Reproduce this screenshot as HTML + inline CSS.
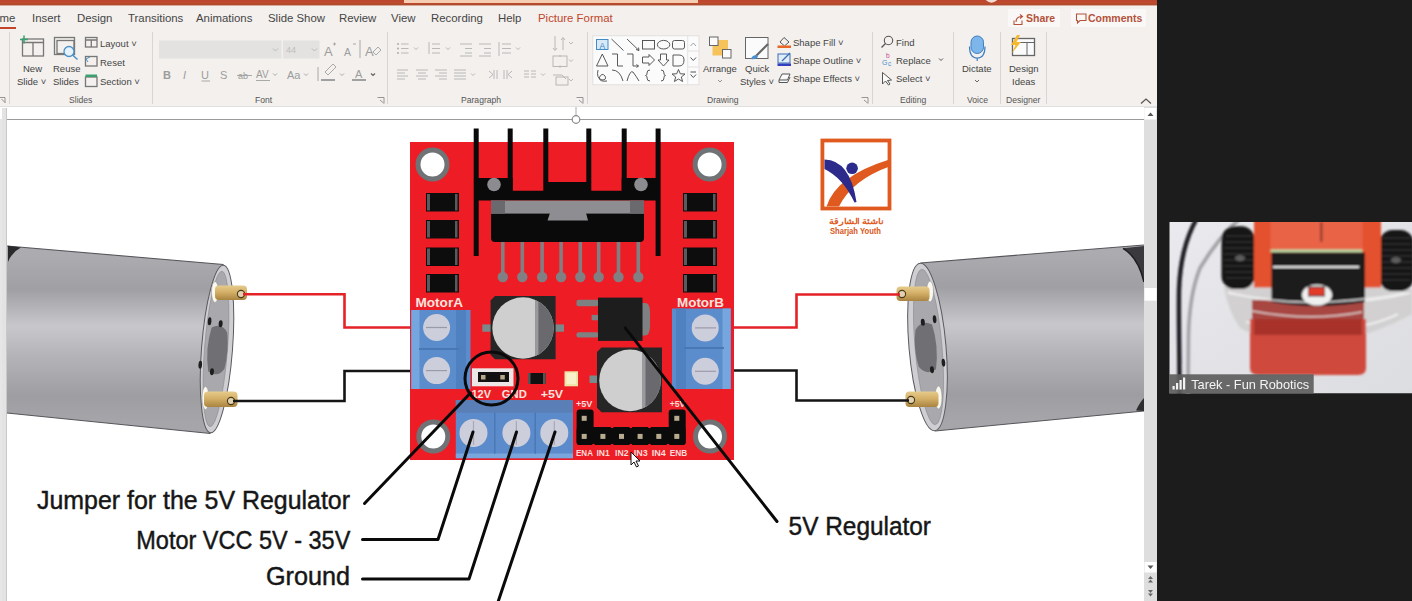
<!DOCTYPE html>
<html><head><meta charset="utf-8">
<style>
*{margin:0;padding:0;box-sizing:border-box}
html,body{width:1412px;height:601px;overflow:hidden;background:#1c1c1c;font-family:"Liberation Sans",sans-serif}
#app{position:absolute;left:0;top:0;width:1157px;height:601px;background:#f3f0ed;overflow:hidden}
#title{position:absolute;left:0;top:0;width:1157px;height:5px;background:linear-gradient(#bb4632,#c04a2a 60%,#a84a30);border-bottom:1px solid #d8a898;box-sizing:content-box}
#search{position:absolute;left:404px;top:0;width:294px;height:2.5px;background:#f4cdb2}
.t{position:absolute;white-space:nowrap;line-height:1}
.tab{font-size:11.4px;color:#454545;top:12.5px}
.rl{font-size:9.5px;color:#444}
.gl{font-size:8.6px;color:#555;top:96px}
.sep{position:absolute;top:32px;width:1px;height:72px;background:#d8d6d4}
svg{position:absolute;left:0;top:0;overflow:visible}
#right{position:absolute;left:1157px;top:0;width:255px;height:601px;background:#1c1c1c}
</style></head><body>
<div id="app">
  <div id="title"></div><div id="search"></div>
  <!-- tabs -->
  <div class="t tab" style="left:-15px">Home</div>
  <div style="position:absolute;left:0;top:27px;width:16px;height:2px;background:#c2452b"></div>
  <div class="t tab" style="left:32px">Insert</div>
  <div class="t tab" style="left:77px">Design</div>
  <div class="t tab" style="left:128px">Transitions</div>
  <div class="t tab" style="left:196px">Animations</div>
  <div class="t tab" style="left:268px">Slide Show</div>
  <div class="t tab" style="left:339px">Review</div>
  <div class="t tab" style="left:391px">View</div>
  <div class="t tab" style="left:431px">Recording</div>
  <div class="t tab" style="left:498px">Help</div>
  <div class="t tab" style="left:538px;color:#c0452b">Picture Format</div>
  <!-- share / comments -->
  <div style="position:absolute;left:1008px;top:9px;width:52px;height:18px;background:#faf8f7"></div>
  <div style="position:absolute;left:1071px;top:9px;width:75px;height:18px;background:#faf8f7"></div>
  <div class="t" style="left:1026px;top:13px;font-size:10.5px;font-weight:bold;color:#b4523a">Share</div>
  <div class="t" style="left:1088px;top:13px;font-size:10.5px;font-weight:bold;color:#b4523a">Comments</div>

  <!-- separators -->
  <div class="sep" style="left:9px"></div>
  <div class="sep" style="left:152px"></div>
  <div class="sep" style="left:387px"></div>
  <div class="sep" style="left:587px"></div>
  <div class="sep" style="left:872px"></div>
  <div class="sep" style="left:953px"></div>
  <div class="sep" style="left:1000px"></div>
  <div class="sep" style="left:1046px"></div>

  <!-- group labels -->
  <div class="t gl" style="left:69px">Slides</div>
  <div class="t gl" style="left:255px">Font</div>
  <div class="t gl" style="left:461px">Paragraph</div>
  <div class="t gl" style="left:707px">Drawing</div>
  <div class="t gl" style="left:900px">Editing</div>
  <div class="t gl" style="left:967px">Voice</div>
  <div class="t gl" style="left:1006px">Designer</div>

  <!-- ribbon labels -->
  <div class="t rl" style="left:23px;top:64px">New</div>
  <div class="t rl" style="left:17px;top:77px">Slide ˅</div>
  <div class="t rl" style="left:53px;top:64px">Reuse</div>
  <div class="t rl" style="left:53px;top:77px">Slides</div>
  <div class="t rl" style="left:100px;top:39px">Layout ˅</div>
  <div class="t rl" style="left:100px;top:58px">Reset</div>
  <div class="t rl" style="left:100px;top:77px">Section ˅</div>
  <div class="t rl" style="left:703px;top:64px">Arrange</div>
  <div class="t rl" style="left:745px;top:64px">Quick</div>
  <div class="t rl" style="left:740px;top:77px">Styles ˅</div>
  <div class="t rl" style="left:793px;top:38px">Shape Fill ˅</div>
  <div class="t rl" style="left:793px;top:56px">Shape Outline ˅</div>
  <div class="t rl" style="left:793px;top:74px">Shape Effects ˅</div>
  <div class="t rl" style="left:896px;top:38px">Find</div>
  <div class="t rl" style="left:896px;top:56px">Replace</div>
  <div class="t rl" style="left:896px;top:74px">Select ˅</div>
  <div class="t rl" style="left:962px;top:64px">Dictate</div>
  <div class="t rl" style="left:1009px;top:64px">Design</div>
  <div class="t rl" style="left:1012px;top:77px">Ideas</div>

  <!-- ribbon bottom border -->
  <div style="position:absolute;left:0;top:106px;width:1157px;height:1px;background:#e2e0de"></div>

  <svg id="ribbonicons" width="1157" height="107" viewBox="0 0 1157 107">
<!-- title avatar hint -->
<circle cx="991.5" cy="-4.5" r="7.2" fill="#f2dcd4"/>
<!-- share/comment icons -->
<g fill="none" stroke="#b4523a" stroke-width="1.1">
  <path d="M1014 20.5 V24.5 H1022 V20.5"/><path d="M1016 22 Q1016 16.5 1022 16.5 M1020 14.5 L1022.5 16.5 L1020 18.5"/>
  <path d="M1076.5 14 H1086 V20.5 H1080 L1077.5 23 V20.5 H1076.5 Z"/>
</g>
<!-- dialog launchers -->
<g fill="none" stroke="#8a8a8a" stroke-width="0.9">
  <path d="M0 97.5 H5 V103 M1.5 99 L5 102.5"/>
  <path d="M377.5 97.5 H384 V103.5 M380 100 L383.5 103"/>
  <path d="M576.5 97.5 H583 V103.5 M579 100 L582.5 103"/>
  <path d="M861.5 97.5 H868 V103.5 M864 100 L867.5 103"/>
  <path d="M1141 103.5 L1146 99 L1151 103.5" stroke="#555" stroke-width="1.2"/>
</g>
<!-- Slides group icons -->
<g fill="none" stroke="#777" stroke-width="1.3">
  <rect x="22.5" y="39" width="21" height="17"/>
  <path d="M22.5 42.5 H43.5 M33 42.5 V56"/>
  <rect x="54.5" y="37.5" width="20" height="17"/>
  <rect x="57" y="40.5" width="17" height="13"/>
  <rect x="85.5" y="37.5" width="11.5" height="9.5"/>
  <path d="M86 40 H97 M91.3 40 V47"/>
  <rect x="85.5" y="56.5" width="11.5" height="9.5"/>
  <rect x="85.5" y="77" width="11.5" height="9.5"/>
</g>
<path d="M20 39.5 H28 M24 35.5 V43.5" stroke="#3aa070" stroke-width="1.5"/>
<circle cx="69" cy="51.5" r="5" fill="#e8f2fa" stroke="#4a90c8" stroke-width="1.3"/>
<path d="M72.5 55 L77.5 59.5" stroke="#4a90c8" stroke-width="1.5"/>
<path d="M86 59 L90 57 M86 59 L88 62" stroke="#4a90c8" stroke-width="1"/>
<rect x="85.5" y="74.5" width="11.5" height="2.5" fill="#3aa070"/>

<!-- Font group -->
<rect x="159" y="40.5" width="122.5" height="18" fill="#e4e2e0"/>
<rect x="283" y="40.5" width="36.5" height="18" fill="#e4e2e0"/>
<g fill="none" stroke="#b8b6b4" stroke-width="0.9">
  <path d="M273 48.5 L275.5 51 L278 48.5"/><path d="M312 48.5 L314.5 51 L317 48.5"/>
</g>
<g fill="#9c9c9c" font-family="Liberation Sans">
  <text x="324" y="56" font-size="13">A</text>
  <text x="344" y="55.5" font-size="10.5">A</text>
  <text x="365" y="56" font-size="13">A</text>
  <text x="286" y="53" font-size="9" fill="#c0bebc">44</text>
  <text x="163" y="79" font-size="11" font-weight="bold">B</text>
  <text x="183" y="79" font-size="11" font-style="italic">I</text>
  <text x="201" y="79" font-size="11">U</text>
  <text x="220" y="79" font-size="11">S</text>
  <text x="238" y="79" font-size="9">ab</text>
  <text x="256" y="78" font-size="10">AV</text>
  <text x="287" y="79" font-size="11">Aa</text>
  <text x="355" y="78" font-size="11">A</text>
</g>
<g fill="none" stroke="#a0a0a0" stroke-width="0.9">
  <path d="M333 44 L336 44 M334.5 42.5 V45.5"/>
  <path d="M353 44 L356 44"/>
  <path d="M201.5 81 H210"/>
  <path d="M237 75.5 H252"/>
  <path d="M256 80.5 H270"/>
  <path d="M273 73.5 L275 75.5 L277 73.5"/><path d="M304 73.5 L306 75.5 L308 73.5"/>
  <path d="M340 73.5 L342 75.5 L344 73.5"/><path d="M371 73.5 L373 75.5 L375 73.5" stroke="#666" stroke-width="1.2"/>
  <path d="M318 67 V81"/><path d="M360 40 V58"/>
  <path d="M325 72 L333 64 L336 67 L328 75 Z"/>
</g>
<rect x="321" y="79" width="14" height="2" fill="#a0a0a0"/>
<rect x="352" y="79" width="14" height="2" fill="#a0a0a0"/>
<path d="M373 52 L378 47 L381 50 L376 55 Z" fill="none" stroke="#a0a0a0" stroke-width="0.9"/>

<!-- Paragraph group -->
<g fill="none" stroke="#b2b2b2" stroke-width="0.9">
  <!-- bullets -->
  <path d="M401 44 H408.5 M401 48.5 H408.5 M401 53 H408.5"/>
  <path d="M414 47.5 L416 49.5 L418 47.5"/>
  <path d="M432 44 H440 M432 48.5 H440 M432 53 H440 M429 42 V54"/>
  <path d="M446 47.5 L448 49.5 L450 47.5"/>
  <path d="M460 44 H472 M465 48.5 H472 M465 53 H472 M460 56 H472"/>
  <path d="M479 44 H491 M484 48.5 H491 M484 53 H491 M479 56 H491"/>
  <path d="M502 44 H511 M502 48.5 H511 M502 53 H511 M499 42 V56"/>
  <path d="M516 47.5 L518 49.5 L520 47.5"/>
  <!-- align -->
  <path d="M397 70 H408 M397 73 H405 M397 76 H408 M397 79 H405"/>
  <path d="M416 70 H428 M418 73 H426 M416 76 H428 M418 79 H426"/>
  <path d="M435 70 H447 M439 73 H447 M435 76 H447 M439 79 H447"/>
  <path d="M454 70 H466 M454 73 H466 M454 76 H466 M454 79 H466"/>
  <path d="M471 73.5 L473 75.5 L475 73.5"/>
  <path d="M489 71 L493 74.5 L489 78 M494 70 V79 M497 70 V79"/>
  <path d="M512 71 L508 74.5 L512 78 M504 70 V79 M507 70 V79"/>
  <path d="M524 71 H529 M524 74 H529 M524 77 H529 M531 71 H536 M531 74 H536 M531 77 H536"/>
  <path d="M541 73.5 L543 75.5 L545 73.5"/>
  <!-- right column -->
  <path d="M555 36 V50 M553 48 L555 50.5 L557 48 M563 38 V50 M561 40 L563 37.5 L565 40"/>
  <path d="M569 42 L571 44 L573 42"/>
  <rect x="553" y="56" width="14" height="10.5"/>
  <path d="M560 55 V57 M560 65.5 V68"/>
  <path d="M569 59.5 L571 61.5 L573 59.5"/>
  <rect x="556" y="77" width="12" height="8"/>
  <path d="M553 75 H562 L566 79"/>
  <path d="M569 79 L571 81 L573 79"/>
</g>
<circle cx="398" cy="44" r="0.9" fill="#a6a6a6"/><circle cx="398" cy="48.5" r="0.9" fill="#a6a6a6"/><circle cx="398" cy="53" r="0.9" fill="#a6a6a6"/>

<!-- Drawing: shapes gallery -->
<rect x="592.8" y="35.8" width="106.2" height="49" fill="#fbfbfb" stroke="#dedcda" stroke-width="0.8"/>
<path d="M687.7 36 V85 M687.7 51 H699 M687.7 67 H699" stroke="#dedcda" stroke-width="0.8" fill="none"/>
<g fill="none" stroke="#9a9a9a" stroke-width="0.9">
  <path d="M690.5 46 L693.3 43 L696 46"/>
</g>
<g fill="none" stroke="#555" stroke-width="1">
  <path d="M690.5 57.5 L693.3 60.5 L696 57.5"/>
  <path d="M690.5 74.5 L693.3 77.5 L696 74.5 M690.5 72 H696"/>
</g>
<g fill="none" stroke="#505050" stroke-width="0.95">
  <rect x="596.5" y="39.5" width="11.5" height="10" stroke="#3c86c4" fill="#d8eaf8"/>
  <path d="M611.5 39 L623.5 50.5"/>
  <path d="M627 39 L639 50.5 M639 50.5 L636 49.5 M639 50.5 L638.5 47.5"/>
  <rect x="642.5" y="40.5" width="12" height="8.5"/>
  <ellipse cx="663.6" cy="44.7" rx="6.2" ry="4.3"/>
  <rect x="672.5" y="40.5" width="12" height="8.5" rx="2"/>
  <path d="M596.5 66 L602.3 54 L608 66 Z"/>
  <path d="M612 54 H617.5 V66 H623"/>
  <path d="M627 54 H633 V66 H638.5 M638.5 66 L636.5 64.5 M638.5 66 L636.5 67.5"/>
  <path d="M642.5 57 H649 V54.5 L654.5 60 L649 65.5 V63 H642.5 Z"/>
  <path d="M660.5 54 H666.5 V60 H669 L663.5 66 L658 60 H660.5 Z"/>
  <path d="M673 55 H679 Q684 55 684 60 Q684 66 679 66 H673 Z"/>
  <path d="M598 70 Q596 78 602 80 Q607 80 605 76 Q602 72 599 78 Q600 82 607 81"/>
  <path d="M612 70 Q620 70 623 81"/>
  <path d="M627 81 Q630 70 633 72 Q636 76 639 81"/>
  <path d="M650 70 Q647 70 647 73 V74.5 L645.5 75.5 L647 76.5 V78 Q647 81 650 81"/>
  <path d="M661 70 Q664 70 664 73 V74.5 L665.5 75.5 L664 76.5 V78 Q664 81 661 81"/>
  <path d="M678.5 69.5 L680.3 73.8 L685 74 L681.3 77 L682.6 81.5 L678.5 79 L674.4 81.5 L675.7 77 L672 74 L676.7 73.8 Z"/>
</g>
<text x="599.5" y="48.5" font-family="Liberation Sans" font-size="8.5" fill="#3c86c4">A</text>
<!-- Arrange -->
<rect x="712.5" y="40" width="15.5" height="15.5" fill="#f5c35a"/>
<rect x="709.5" y="37" width="8.5" height="8.5" fill="#fbfbfb" stroke="#666" stroke-width="1"/>
<rect x="722.5" y="49.5" width="8.5" height="8.5" fill="#fbfbfb" stroke="#666" stroke-width="1"/>
<path d="M718 80 L720 82 L722 80" fill="none" stroke="#888" stroke-width="0.9"/>
<!-- Quick styles -->
<rect x="745.5" y="37.5" width="22.5" height="21" fill="#fbfbfb" stroke="#666" stroke-width="1"/>
<path d="M768 44 L756 56" stroke="#666" stroke-width="2.2"/>
<path d="M757 55 Q752 55 751 59 Q755 60 758 57 Z" fill="#4a90d0"/>
<!-- Shape fill/outline/effects icons -->
<path d="M780 42 L784 37.5 L789 42 L784.5 46 Z" fill="none" stroke="#555" stroke-width="1"/>
<rect x="777.5" y="45.5" width="13.5" height="2.5" fill="#e8682a"/>
<rect x="778" y="54" width="12" height="9" fill="#e0ecf8" stroke="#3c6cb4" stroke-width="1"/>
<path d="M782 61 L790 53" stroke="#3c6cb4" stroke-width="1.2"/>
<rect x="777.5" y="63.5" width="13.5" height="2.5" fill="#3040c0"/>
<path d="M779 80 L782 74 H790 L787.5 80 Z M779 80 V82.5 H787.5 L790 77" fill="#fbfbfb" stroke="#555" stroke-width="1"/>
<!-- Editing icons -->
<circle cx="888.5" cy="40.5" r="4.2" fill="none" stroke="#555" stroke-width="1.1"/>
<path d="M885.5 43.5 L881.5 47.5" stroke="#555" stroke-width="1.2"/>
<text x="886" y="58" font-family="Liberation Sans" font-size="6.5" fill="#c44a9a">b</text>
<text x="882" y="65" font-family="Liberation Sans" font-size="7" fill="#4a90d0">G</text>
<text x="888" y="66" font-family="Liberation Sans" font-size="6.5" fill="#4a90d0">c</text>
<path d="M882.5 72.5 L882.5 84 L885.5 81 L888.5 85 L890 84 L887.5 80.5 L891.5 80 Z" fill="#fbfbfb" stroke="#444" stroke-width="0.9"/>
<path d="M939 58.5 L941 60.5 L943 58.5" fill="none" stroke="#555" stroke-width="1"/>
<!-- Dictate mic -->
<rect x="971" y="36" width="12.5" height="17.5" rx="6.25" fill="#7db6ea" stroke="#3e7fc2" stroke-width="1"/>
<path d="M969.5 46.5 Q969.5 58 977.2 58 Q985 58 985 46.5 M977.2 58 V61" fill="none" stroke="#3e7fc2" stroke-width="1.2"/>
<path d="M975 80 L977 82 L979 80" fill="none" stroke="#666" stroke-width="1"/>
<!-- Designer -->
<rect x="1012.5" y="38.5" width="22" height="17" fill="#fbfbfb" stroke="#666" stroke-width="1.3"/>
<path d="M1013 42.5 H1034 M1027 42.5 V55" stroke="#666" stroke-width="1" fill="none"/>
<path d="M1017 35 L1011 45 H1015.5 L1012 53 L1021 42 H1016.5 L1020 35 Z" fill="#f5b830"/>
</svg>


  <svg id="slide" width="1157" height="601" viewBox="0 0 1157 601" style="top:0">
<defs>
  <linearGradient id="mbodyL" gradientUnits="userSpaceOnUse" x1="112" y1="256" x2="112" y2="423">
    <stop offset="0" stop-color="#acacb0"/>
    <stop offset="0.2" stop-color="#a0a0a4"/>
    <stop offset="0.42" stop-color="#c8c8cc"/>
    <stop offset="0.6" stop-color="#b4b4b8"/>
    <stop offset="0.84" stop-color="#9e9ea2"/>
    <stop offset="1" stop-color="#a6a6aa"/>
  </linearGradient>
  <linearGradient id="mbodyR" gradientUnits="userSpaceOnUse" x1="1035" y1="254" x2="1035" y2="421">
    <stop offset="0" stop-color="#acacb0"/>
    <stop offset="0.2" stop-color="#a0a0a4"/>
    <stop offset="0.42" stop-color="#c8c8cc"/>
    <stop offset="0.6" stop-color="#b4b4b8"/>
    <stop offset="0.84" stop-color="#9e9ea2"/>
    <stop offset="1" stop-color="#a6a6aa"/>
  </linearGradient>
  <linearGradient id="brass" x1="0" y1="0" x2="0" y2="1">
    <stop offset="0" stop-color="#e6cc8c"/>
    <stop offset="0.45" stop-color="#d4b068"/>
    <stop offset="1" stop-color="#a88440"/>
  </linearGradient>
</defs>
<!-- slide pane -->
<rect x="0" y="107" width="1144" height="494" fill="#ffffff"/>
<rect x="0" y="119" width="2" height="482" fill="#e6e6e6"/>
<rect x="2" y="108" width="5" height="493" fill="#e3e3e3"/>
<rect x="6" y="108" width="1" height="493" fill="#c8c8c8"/>
<line x1="7" y1="119.5" x2="1144" y2="119.5" stroke="#9a9a9a" stroke-width="1.2"/>
<line x1="576" y1="107" x2="576" y2="116" stroke="#aaa" stroke-width="1"/>
<circle cx="576" cy="119.5" r="3.8" fill="#fff" stroke="#888" stroke-width="1.2"/>

<!-- LEFT MOTOR -->
<g id="lmotor">
  <path d="M7 246 L223.5 264.5 L210.5 433.5 L7 413 Z" fill="url(#mbodyL)"/>
  <path d="M7 246 L223.5 264.5" stroke="#55555a" stroke-width="1.1" fill="none"/>
  <path d="M7 413 L210.5 433.5" stroke="#55555a" stroke-width="1.1" fill="none"/>
  <path d="M8 245.7 L21 247.5 Q12 252 8 262 Z" fill="#2a2a2c"/>
  <g transform="rotate(4.4 217 349)">
  <ellipse cx="217" cy="349" rx="15.5" ry="84" fill="#cfcfd3" stroke="#5a5a5e" stroke-width="1"/>
  <ellipse cx="216" cy="349" rx="11.5" ry="78" fill="#a9a9ad" stroke="#8a8a8e" stroke-width="0.6"/>
  <path d="M210 328 Q220 322 226 332 Q229 350 226 368 Q220 378 210 372 Q205 350 210 328 Z" fill="#707074"/>
  <ellipse cx="207.5" cy="322" rx="1.8" ry="4" fill="#1e1e1e"/>
  <ellipse cx="218.7" cy="323.5" rx="2" ry="3.5" fill="#1e1e1e"/>
  <ellipse cx="201.5" cy="366" rx="1.8" ry="4" fill="#1e1e1e"/>
  <ellipse cx="213.7" cy="372" rx="2" ry="3.5" fill="#1e1e1e"/>
  </g>
  <ellipse cx="215" cy="292" rx="3.5" ry="10.5" fill="#fbf8f0" stroke="#888" stroke-width="0.5"/>
  <ellipse cx="205.5" cy="398" rx="3.5" ry="11.5" fill="#fbf8f0" stroke="#888" stroke-width="0.5"/>
  <rect x="215" y="285.5" width="32" height="14.5" rx="4" fill="url(#brass)"/>
  <rect x="204" y="391.5" width="33.5" height="15.5" rx="4" fill="url(#brass)"/>
  <circle cx="241" cy="294" r="3.6" fill="#e0d2b0" stroke="#4a3818" stroke-width="1.1"/>
  <circle cx="231" cy="401" r="3.6" fill="#e0d2b0" stroke="#4a3818" stroke-width="1.1"/>
</g>
<!-- RIGHT MOTOR -->
<g id="rmotor">
  <path d="M1144 245 L920.5 263 L935 431 L1144 411 Z" fill="url(#mbodyR)"/>
  <path d="M1144 245 L920.5 263" stroke="#55555a" stroke-width="1.1" fill="none"/>
  <path d="M1144 411 L935 431" stroke="#55555a" stroke-width="1.1" fill="none"/>
  <path d="M1123 248.3 L1144 246 L1144 282 Q1138 257 1123 248.3 Z" fill="#3a3a3e"/>
  <path d="M1123 248.3 Q1138 257 1144 282" stroke="#1e1e20" stroke-width="1.5" fill="none"/>
  <path d="M1136 410.5 Q1140 402 1144 398 L1144 411 Z" fill="#2e2e30"/>
  <g transform="rotate(-5 927.5 347)">
  <ellipse cx="927.5" cy="347" rx="18.5" ry="84" fill="#cfcfd3" stroke="#5a5a5e" stroke-width="1"/>
  <ellipse cx="928.5" cy="347" rx="13.5" ry="78" fill="#a9a9ad" stroke="#8a8a8e" stroke-width="0.6"/>
  <path d="M934 325 Q924 319 917 329 Q913 347 917 366 Q924 376 934 370 Q939 347 934 325 Z" fill="#707074"/>
  <ellipse cx="937" cy="320" rx="1.8" ry="4" fill="#1e1e1e"/>
  <ellipse cx="925" cy="322" rx="2" ry="3.5" fill="#1e1e1e"/>
  <ellipse cx="942" cy="364" rx="1.8" ry="4" fill="#1e1e1e"/>
  <ellipse cx="930" cy="370" rx="2" ry="3.5" fill="#1e1e1e"/>
  </g>
  <ellipse cx="930" cy="291.5" rx="3.5" ry="10.5" fill="#fbf8f0" stroke="#888" stroke-width="0.5"/>
  <ellipse cx="938.5" cy="397.5" rx="3.5" ry="11.5" fill="#fbf8f0" stroke="#888" stroke-width="0.5"/>
  <rect x="896.5" y="286.5" width="33" height="14.5" rx="4" fill="url(#brass)"/>
  <rect x="905.5" y="391.5" width="33" height="15.5" rx="4" fill="url(#brass)"/>
  <circle cx="902" cy="294" r="3.6" fill="#e0d2b0" stroke="#4a3818" stroke-width="1.1"/>
  <circle cx="911" cy="400" r="3.6" fill="#e0d2b0" stroke="#4a3818" stroke-width="1.1"/>
</g>
<!-- WIRES -->
<g fill="none" stroke-width="2.6" stroke-linejoin="miter">
  <path d="M243 294.2 H344.5 V327.5 H412" stroke="#e42228"/>
  <path d="M233 401 H344.5 V371 H412" stroke="#151515"/>
  <path d="M731 327.5 H796.5 V294.5 H900" stroke="#e42228"/>
  <path d="M731 370.5 H796.5 V400.5 H909" stroke="#151515"/>
</g>

<!-- BOARD -->
<g id="board">
  <rect x="410" y="142" width="324" height="318" fill="#ee1c25"/>
  <!-- holes -->
  <g fill="#ffffff" stroke="#6f7375" stroke-width="5">
    <circle cx="432.5" cy="164.6" r="14.5"/>
    <circle cx="709.6" cy="164.6" r="14.5"/>
    <circle cx="433.3" cy="436.6" r="14.5"/>
    <circle cx="710" cy="436.6" r="14.5"/>
  </g>
  <!-- SMD left/right -->
  <g fill="#0d0d0d">
    <rect x="426" y="193" width="33" height="18.5"/>
    <rect x="426" y="220" width="33" height="18.5"/>
    <rect x="426" y="247.5" width="33" height="18.5"/>
    <rect x="426" y="274" width="33" height="18.5"/>
    <rect x="683" y="193" width="34" height="18.5"/>
    <rect x="683" y="220" width="34" height="18.5"/>
    <rect x="683" y="247.5" width="34" height="18.5"/>
    <rect x="683" y="274" width="34" height="18.5"/>
  </g>
  <g fill="#5a5a5e">
    <rect x="427" y="194" width="3" height="16.5"/><rect x="455" y="194" width="2.5" height="16.5"/>
    <rect x="427" y="221" width="3" height="16.5"/><rect x="455" y="221" width="2.5" height="16.5"/>
    <rect x="427" y="248.5" width="3" height="16.5"/><rect x="455" y="248.5" width="2.5" height="16.5"/>
    <rect x="427" y="275" width="3" height="16.5"/><rect x="455" y="275" width="2.5" height="16.5"/>
    <rect x="684" y="194" width="3" height="16.5"/><rect x="713" y="194" width="2.5" height="16.5"/>
    <rect x="684" y="221" width="3" height="16.5"/><rect x="713" y="221" width="2.5" height="16.5"/>
    <rect x="684" y="248.5" width="3" height="16.5"/><rect x="713" y="248.5" width="2.5" height="16.5"/>
    <rect x="684" y="275" width="3" height="16.5"/><rect x="713" y="275" width="2.5" height="16.5"/>
  </g>
  <!-- heatsink -->
  <g fill="#0a0a0a">
    <rect x="473.7" y="128.5" width="5" height="127.5"/>
    <rect x="655.6" y="128.5" width="5" height="127.5"/>
    <rect x="507.7" y="128.5" width="5" height="62"/>
    <rect x="543.3" y="128.5" width="5" height="54"/>
    <rect x="586.3" y="128.5" width="5" height="54"/>
    <rect x="621.7" y="128.5" width="5" height="62"/>
    <path d="M478 178 H512.7 V190.7 H543.3 V182 H591.3 V190.7 H621.7 V178 H656 V200.6 H478 Z"/>
  </g>
  <circle cx="494" cy="184.5" r="6.8" fill="#8c8c90"/>
  <circle cx="641" cy="184.5" r="6.8" fill="#8c8c90"/>
  <!-- IC -->
  <g fill="#808084">
    <rect x="501" y="240" width="3.6" height="36"/>
    <rect x="520.5" y="240" width="3.6" height="36"/>
    <rect x="540.3" y="240" width="3.6" height="36"/>
    <rect x="559.3" y="240" width="3.6" height="36"/>
    <rect x="578.5" y="240" width="3.6" height="36"/>
    <rect x="596.9" y="240" width="3.6" height="36"/>
    <rect x="616.7" y="240" width="3.6" height="36"/>
    <rect x="636.5" y="240" width="3.6" height="36"/>
    <circle cx="502.8" cy="277" r="5.2"/><circle cx="522.3" cy="277" r="5.2"/><circle cx="542.1" cy="277" r="5.2"/><circle cx="561.1" cy="277" r="5.2"/>
    <circle cx="580.3" cy="277" r="5.2"/><circle cx="598.7" cy="277" r="5.2"/><circle cx="618.5" cy="277" r="5.2"/><circle cx="638.3" cy="277" r="5.2"/>
  </g>
  <path d="M491 213 H644 V238 Q644 242 640 242 H495 Q491 242 491 238 Z" fill="#0a0a0a"/>
  <rect x="491" y="200.6" width="153" height="13" fill="#8e8e92"/>
  <rect x="491" y="200.6" width="14" height="13" fill="#6a6a6e"/>
  <rect x="630" y="200.6" width="14" height="13" fill="#6a6a6e"/>
  <path d="M550 213 H586 L588 220.5 H547.5 Z" fill="#8e8e92"/>

  <!-- MotorA/MotorB terminals -->
  <rect x="411" y="310" width="59.5" height="79" fill="#5b8ccc"/>
  <rect x="411.5" y="310" width="8" height="79" fill="#76a6de"/>
  <rect x="456" y="310" width="10" height="79" fill="#4f80c0"/>
  <rect x="419" y="348" width="40" height="2" fill="#4a78b4"/>
  <rect x="672" y="308.5" width="59" height="80.5" fill="#5b8ccc"/>
  <rect x="676" y="308.5" width="10" height="80.5" fill="#4f80c0"/>
  <rect x="722.5" y="308.5" width="8" height="80.5" fill="#76a6de"/>
  <rect x="684" y="347" width="40" height="2" fill="#4a78b4"/>
  <g fill="#cdcedb">
    <circle cx="436.6" cy="327.5" r="13.5"/><circle cx="436.6" cy="370.6" r="13.5"/>
    <circle cx="705.2" cy="327.9" r="13.5"/><circle cx="705.2" cy="371.3" r="13.5"/>
  </g>
  <g stroke="#9a9aaa" stroke-width="1.2">
    <line x1="426" y1="327.5" x2="447" y2="327.5"/><line x1="426" y1="370.6" x2="447" y2="370.6"/>
    <line x1="695" y1="327.9" x2="716" y2="327.9"/><line x1="695" y1="371.3" x2="716" y2="371.3"/>
  </g>
  <text x="415.5" y="306.5" font-family="Liberation Sans" font-weight="bold" font-size="13" fill="#fbe4df" textLength="47.5" lengthAdjust="spacingAndGlyphs">MotorA</text>
  <text x="677" y="306.5" font-family="Liberation Sans" font-weight="bold" font-size="13" fill="#fbe4df" textLength="47" lengthAdjust="spacingAndGlyphs">MotorB</text>

  <!-- capacitor 1 -->
  <rect x="482.3" y="324.4" width="10" height="7.3" fill="#7a8a8a"/>
  <rect x="554" y="324.4" width="10" height="7.3" fill="#7a8a8a"/>
  <path d="M495 296 H555.6 V359.2 H495 L490.6 354.7 V300.5 Z" fill="#262626"/>
  <clipPath id="c1"><circle cx="523" cy="328" r="30.7"/></clipPath>
  <g clip-path="url(#c1)">
    <rect x="490" y="296" width="70" height="64" fill="#cfcfcf"/>
    <rect x="535.4" y="296" width="30" height="64" fill="#6a6a6e"/>
    <rect x="535.4" y="296" width="3" height="64" fill="#9a9a9e"/>
  </g>
  <!-- regulator -->
  <g fill="#7d8181">
    <rect x="576.5" y="299.7" width="22" height="6.5" rx="2"/>
    <rect x="591.6" y="314.9" width="7" height="5.4"/>
    <rect x="576.5" y="332.2" width="22" height="5.4" rx="2"/>
    <path d="M640 303 H645 Q650 303 650 312 V326 Q650 335.5 645 335.5 H640 Z"/>
  </g>
  <rect x="598" y="297.6" width="44.5" height="43.3" fill="#1d1d1d"/>
  <!-- capacitor 2 -->
  <rect x="589.5" y="375.5" width="9" height="7.5" fill="#7a8a8a"/>
  <path d="M601.5 347.4 H662 V412.3 H601.5 L597 407.8 V351.9 Z" fill="#262626"/>
  <clipPath id="c2"><circle cx="630" cy="380.4" r="30.8"/></clipPath>
  <g clip-path="url(#c2)">
    <rect x="595" y="347" width="70" height="66" fill="#cfcfcf"/>
    <rect x="642.5" y="347" width="22" height="66" fill="#6a6a6e"/>
    <rect x="642.5" y="347" width="3" height="66" fill="#9a9a9e"/>
  </g>

  <!-- jumper, smd, led -->
  <rect x="472" y="368.3" width="41.5" height="18" fill="#ece6e6"/>
  <rect x="478" y="372" width="31" height="10" fill="#111"/>
  <rect x="481" y="375" width="4.5" height="4.5" fill="#b8a98c"/>
  <rect x="500.3" y="375" width="4.5" height="4.5" fill="#b8a98c"/>
  <rect x="528" y="373" width="17.5" height="11" fill="#111"/>
  <rect x="528" y="373" width="2.5" height="11" fill="#555"/>
  <rect x="543" y="373" width="2.5" height="11" fill="#555"/>
  <rect x="564.5" y="371.3" width="13.5" height="15" fill="#efe3a8"/>
  <rect x="566.5" y="373" width="9.5" height="11" fill="#f8f0c8"/>
  <g font-family="Liberation Sans" font-weight="bold" fill="#fbe4df">
    <text x="471.5" y="398.4" font-size="11.5" textLength="19.5" lengthAdjust="spacingAndGlyphs">12V</text>
    <text x="501.8" y="398.4" font-size="11.5" textLength="25" lengthAdjust="spacingAndGlyphs">GND</text>
    <text x="540.7" y="398.4" font-size="11.5" textLength="22.5" lengthAdjust="spacingAndGlyphs">+5V</text>
  </g>

  <!-- bottom terminal -->
  <rect x="455.8" y="400.2" width="117.2" height="58" fill="#5b8bcb"/>
  <rect x="455.8" y="400.2" width="117.2" height="12.5" fill="#5a7fb6"/>
  <rect x="455.8" y="453.5" width="117.2" height="4.7" fill="#7aa6de"/>
  <rect x="494" y="412.7" width="1.5" height="41" fill="#4a78b4"/>
  <rect x="534.5" y="412.7" width="1.5" height="41" fill="#4a78b4"/>
  <g fill="#cdcedb">
    <circle cx="473.5" cy="433" r="14"/><circle cx="516.4" cy="433" r="14"/><circle cx="554.3" cy="433" r="14"/>
  </g>
  <g stroke="#a8a8b8" stroke-width="1.2">
    <line x1="473.5" y1="421" x2="473.5" y2="445"/><line x1="516.4" y1="421" x2="516.4" y2="445"/><line x1="554.3" y1="421" x2="554.3" y2="445"/>
  </g>

  <!-- header pins -->
  <g fill="#0b0b0b">
    <rect x="576.6" y="409.6" width="17" height="35.4" rx="3"/>
    <rect x="668.7" y="409.6" width="17" height="35.4" rx="3"/>
    <rect x="576.6" y="427" width="109" height="18" rx="3"/>
  </g>
  <g fill="#ee1c25">
    <circle cx="612.2" cy="426.6" r="1.6"/><circle cx="630.8" cy="426.6" r="1.6"/><circle cx="649.5" cy="426.6" r="1.6"/>
    <circle cx="593.5" cy="445.4" r="1.6"/><circle cx="612.2" cy="445.4" r="1.6"/><circle cx="630.8" cy="445.4" r="1.6"/><circle cx="649.5" cy="445.4" r="1.6"/><circle cx="668" cy="445.4" r="1.6"/>
  </g>
  <g fill="#b9ab8f">
    <rect x="581.7" y="415.8" width="5" height="5"/><rect x="674.3" y="415.8" width="5" height="5"/>
    <rect x="581.7" y="433.9" width="5" height="5"/><rect x="600.4" y="433.9" width="5" height="5"/>
    <rect x="619" y="433.9" width="5" height="5"/><rect x="637.6" y="433.9" width="5" height="5"/>
    <rect x="656.3" y="433.9" width="5" height="5"/><rect x="674.3" y="433.9" width="5" height="5"/>
  </g>
  <g font-family="Liberation Sans" font-weight="bold" fill="#fbdcd8" font-size="8.2">
    <text x="576" y="455.6" textLength="17" lengthAdjust="spacingAndGlyphs">ENA</text>
    <text x="596.5" y="455.6" textLength="13.3" lengthAdjust="spacingAndGlyphs">IN1</text>
    <text x="615" y="455.6" textLength="13.5" lengthAdjust="spacingAndGlyphs">IN2</text>
    <text x="633.7" y="455.6" textLength="14" lengthAdjust="spacingAndGlyphs">IN3</text>
    <text x="651.8" y="455.6" textLength="14" lengthAdjust="spacingAndGlyphs">IN4</text>
    <text x="669.8" y="455.6" textLength="17.5" lengthAdjust="spacingAndGlyphs">ENB</text>
    <text x="576" y="407.2" textLength="16.4" lengthAdjust="spacingAndGlyphs">+5V</text>
    <text x="669.8" y="407.2" textLength="15.5" lengthAdjust="spacingAndGlyphs">+5V</text>
  </g>
</g>

<!-- annotation circle & lines -->
<circle cx="491.5" cy="378.5" r="26.5" fill="none" stroke="#0a0a0a" stroke-width="3"/>
<g stroke="#0a0a0a" stroke-width="3" fill="none" stroke-linecap="round" stroke-linejoin="round">
  <path d="M364.5 503.5 L470.5 393"/>
  <path d="M362.5 539.5 H438 L473 432"/>
  <path d="M362.5 579 H469 L516.5 432"/>
  <path d="M497 605 L555 432"/>
  <path d="M625.2 327.9 L777 521.5"/>
</g>
<g font-family="Liberation Sans" fill="#161616" font-size="25.5" stroke="#161616" stroke-width="0.45">
  <text x="37" y="508.5" textLength="313" lengthAdjust="spacingAndGlyphs">Jumper for the 5V Regulator</text>
  <text x="136.3" y="549" textLength="214" lengthAdjust="spacingAndGlyphs">Motor VCC 5V - 35V</text>
  <text x="266" y="584.5" textLength="84" lengthAdjust="spacingAndGlyphs">Ground</text>
  <text x="788.6" y="534.7" textLength="142.4" lengthAdjust="spacingAndGlyphs">5V Regulator</text>
</g>

<!-- mouse cursor -->
<path d="M631 452 L631 465 L634 462 L636.5 467 L638.5 466 L636 461 L640 461 Z" fill="#fff" stroke="#111" stroke-width="1"/>

<!-- logo -->
<g id="logo">
  <rect x="822.4" y="140.5" width="67.1" height="68" fill="#fff" stroke="#e0591e" stroke-width="3.8"/>
  <path d="M826.5 206.5 Q836 176 889.5 159.5 L889.5 166.5 Q852 180 839 206.5 Z" fill="#e0591e"/>
  <path d="M824.5 159.5 Q850 160 856.5 202 L854.5 202.5 Q843 178 824.5 169 Z" fill="#2c2a8a"/>
  <circle cx="852.1" cy="168.3" r="5.8" fill="#2c2a8a"/>
  <text x="829" y="224" font-family="Liberation Sans" font-weight="bold" font-size="7.5" fill="#e0591e" textLength="54" lengthAdjust="spacingAndGlyphs">ناشئة الشارقة</text>
  <text x="830" y="234.4" font-family="Liberation Sans" font-weight="bold" font-size="8.8" fill="#d9561a" textLength="51" lengthAdjust="spacingAndGlyphs">Sharjah Youth</text>
</g>

<!-- scrollbar -->
<rect x="1144" y="107" width="13" height="494" fill="#dedede"/>
<rect x="1144.3" y="108" width="12" height="11.5" fill="#fff"/>
<path d="M1147.5 116 L1150.5 112.5 L1153.5 116 Z" fill="#555"/>
<rect x="1144.5" y="288" width="12" height="12.7" fill="#fff"/>
<rect x="1144.5" y="562" width="12" height="10.5" fill="#fff"/>
<path d="M1147.5 565.5 L1150.5 569 L1153.5 565.5 Z" fill="#555"/>
<path d="M1148 579 L1150.5 576 L1153 579 Z M1148 582.5 L1150.5 579.5 L1153 582.5 Z" fill="#666"/>
<path d="M1148 590 L1150.5 593 L1153 590 Z M1148 593.5 L1150.5 596.5 L1153 593.5 Z" fill="#666"/>
</svg>

</div>
<div id="right"><svg id="video" width="255" height="601" viewBox="1157 0 255 601" style="left:0;top:0">
<defs>
  <linearGradient id="vbg" x1="0" y1="0" x2="1" y2="1">
    <stop offset="0" stop-color="#e9e9ee"/>
    <stop offset="1" stop-color="#dcdde0"/>
  </linearGradient>
  <filter id="vblur" x="-5%" y="-5%" width="110%" height="110%"><feGaussianBlur stdDeviation="0.9"/></filter>
  <clipPath id="vclip"><rect x="1169.3" y="222" width="243" height="171.5"/></clipPath>
</defs>
<g clip-path="url(#vclip)">
<rect x="1169.3" y="222" width="243" height="171.5" fill="url(#vbg)"/>
<g filter="url(#vblur)">
  <!-- cables -->
  <path d="M1196 220 C1186 238 1180 260 1179 290 C1178.5 320 1179.5 350 1179.5 395" stroke="#1c1c20" stroke-width="4.4" fill="none"/>
  <path d="M1239 220 C1228 228 1212 248 1200 268 C1192 288 1189 310 1188.5 336 L1188 395" stroke="#a4a4a8" stroke-width="3.6" fill="none"/>
  <!-- acrylic plate -->
  <path d="M1224 286 Q1240 281 1262 282 L1390 282 Q1410 284 1412 292 L1412 314 Q1398 322 1372 332 L1350 338 L1268 338 Q1250 334 1240 328 L1234 318 Q1226 302 1224 286 Z" fill="#cfcccc" opacity="0.85"/>
  <path d="M1228 293 Q1280 303 1320 303 Q1370 303 1410 293" stroke="#f6f6f6" stroke-width="1.6" fill="none"/>
  <path d="M1246 322 Q1300 332 1330 330 Q1372 327 1398 314" stroke="#f6f6f6" stroke-width="1.6" fill="none"/>
  <!-- wheels -->
  <rect x="1221.5" y="226.3" width="33" height="62.7" rx="13" fill="#161616"/>
  <rect x="1379.5" y="230" width="34" height="61" rx="13" fill="#161616"/>
  <g stroke="#4a4a4a" stroke-width="0.8" opacity="0.8">
    <path d="M1226 236 H1252 M1225 242 H1253 M1224 248 H1254 M1224 254 H1254 M1224 260 H1254 M1224 266 H1254 M1225 272 H1253 M1226 278 H1252"/>
    <path d="M1382 238 H1410 M1381 244 H1411 M1380 250 H1412 M1380 256 H1412 M1380 262 H1412 M1380 268 H1412 M1381 274 H1411 M1382 280 H1410"/>
  </g>
  <ellipse cx="1240" cy="258" rx="5" ry="3" fill="#8a8a8a" opacity="0.6"/>
  <ellipse cx="1396" cy="260" rx="5" ry="3" fill="#8a8a8a" opacity="0.6"/>
  <!-- red body top -->
  <rect x="1254" y="220" width="127" height="67.5" fill="#e4512e"/>
  <rect x="1270.5" y="220" width="92" height="30" fill="#e96446"/>
  <rect x="1320" y="222" width="2.5" height="20" fill="#9a4030"/>
  <rect x="1270.5" y="249.5" width="92" height="3" fill="#b8dca8"/>
  <!-- dark module -->
  <rect x="1271.5" y="252.5" width="93.5" height="37" fill="#1b1b1e"/>
  <rect x="1273" y="266" width="86" height="2" fill="#e6e6e6"/>
  <!-- lower red bits -->
  <rect x="1252" y="300" width="112" height="20" fill="#a43a34" opacity="0.9"/>
  <path d="M1271.5 289 H1365 V302 Q1340 306 1318 306 Q1292 306 1271.5 302 Z" fill="#1b1b1e"/>
  
  <ellipse cx="1317" cy="295" rx="15" ry="10.5" fill="#f0f0f0"/>
  <rect x="1308.5" y="287" width="16" height="9" fill="#e23b2b" stroke="#222" stroke-width="1"/>
  <path d="M1228 292 Q1300 312 1405 293" stroke="#eeeeee" stroke-width="1.4" fill="none" opacity="0.9"/>
  <path d="M1252 311 Q1310 322 1362 312" stroke="#eeeeee" stroke-width="1.3" fill="none" opacity="0.8"/>
  <!-- red box -->
  <path d="M1250 319 H1366 V368 Q1366 375 1358 375 H1258 Q1250 375 1250 368 Z" fill="#cf4a3d"/>
  <rect x="1254" y="319" width="108" height="16" fill="#a8302c"/>
</g>
<!-- label -->
<rect x="1169.3" y="374.3" width="144.4" height="19.3" fill="#5d5d5d" opacity="0.92"/>
<g fill="#f2f2f2">
  <rect x="1172.5" y="386" width="2.2" height="3.5"/>
  <rect x="1176" y="383" width="2.2" height="6.5"/>
  <rect x="1179.5" y="380" width="2.2" height="9.5"/>
  <rect x="1183" y="377.5" width="2.2" height="12"/>
</g>
<text x="1191.2" y="389.2" font-family="Liberation Sans" font-size="12.8" fill="#f4f4f4" textLength="118" lengthAdjust="spacingAndGlyphs">Tarek - Fun Robotics</text>
</g>
</svg>
</div>
</body></html>
